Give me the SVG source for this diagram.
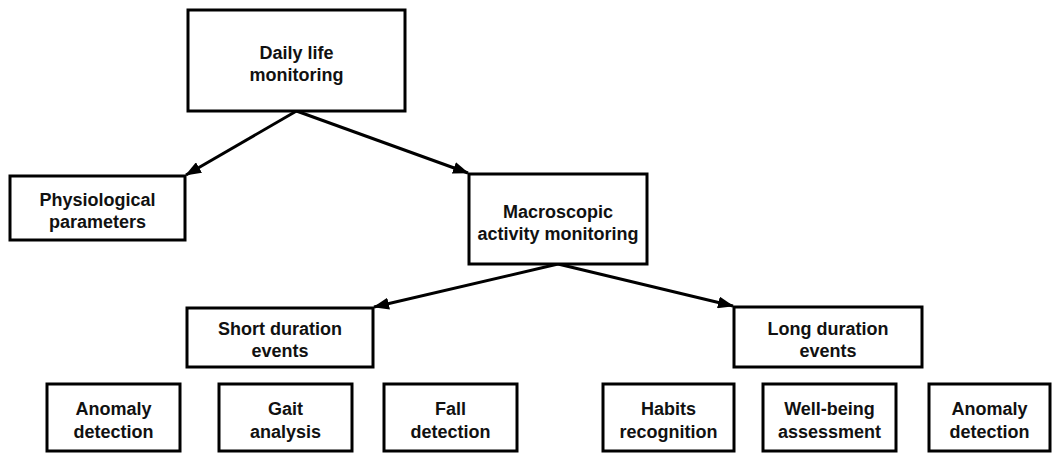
<svg xmlns="http://www.w3.org/2000/svg" width="1052" height="453" viewBox="0 0 1052 453">
<style>
.box{fill:#fff;stroke:#000;stroke-width:3}
.t{font-family:"Liberation Sans",Arial,sans-serif;font-weight:bold;font-size:18px;fill:#111;text-anchor:middle}
.c{stroke:#000;stroke-width:3;fill:none;marker-end:url(#ah)}
</style>
<defs>
<marker id="ah" markerUnits="userSpaceOnUse" markerWidth="16" markerHeight="12" refX="15" refY="6" orient="auto" viewBox="0 0 16 12">
<path d="M0,0 L16,6 L0,12 z" fill="#000"/>
</marker>
</defs>
<rect width="1052" height="453" fill="#fff"/>
<g id="connectors">
<line class="c" x1="296.5" y1="111" x2="186" y2="175"/>
<line class="c" x1="296.5" y1="111" x2="468" y2="173"/>
<line class="c" x1="558" y1="264" x2="374" y2="307"/>
<line class="c" x1="558" y1="264" x2="733" y2="306"/>
</g>
<g id="daily">
<rect class="box" x="188" y="10" width="217" height="101"/>
<text class="t" x="296.5" y="59">Daily life</text>
<text class="t" x="296.5" y="81">monitoring</text>
</g>
<g id="physio">
<rect class="box" x="10" y="176" width="175" height="64"/>
<text class="t" x="97.5" y="206">Physiological</text>
<text class="t" x="97.5" y="228">parameters</text>
</g>
<g id="macro">
<rect class="box" x="469" y="174" width="178" height="90"/>
<text class="t" x="558" y="218">Macroscopic</text>
<text class="t" x="558" y="240">activity monitoring</text>
</g>
<g id="short">
<rect class="box" x="187" y="308" width="186" height="59"/>
<text class="t" x="280" y="335">Short duration</text>
<text class="t" x="280" y="357">events</text>
</g>
<g id="long">
<rect class="box" x="734" y="307" width="188" height="60"/>
<text class="t" x="828" y="335">Long duration</text>
<text class="t" x="828" y="357">events</text>
</g>
<g id="anomaly1">
<rect class="box" x="47" y="384" width="133" height="67"/>
<text class="t" x="113.5" y="415">Anomaly</text>
<text class="t" x="113.5" y="438">detection</text>
</g>
<g id="gait">
<rect class="box" x="219" y="384" width="133" height="67"/>
<text class="t" x="285.5" y="415">Gait</text>
<text class="t" x="285.5" y="438">analysis</text>
</g>
<g id="fall">
<rect class="box" x="384" y="384" width="133" height="67"/>
<text class="t" x="450.5" y="415">Fall</text>
<text class="t" x="450.5" y="438">detection</text>
</g>
<g id="habits">
<rect class="box" x="603" y="384" width="131" height="67"/>
<text class="t" x="668.5" y="415">Habits</text>
<text class="t" x="668.5" y="438">recognition</text>
</g>
<g id="wellbeing">
<rect class="box" x="763" y="384" width="133" height="67"/>
<text class="t" x="829.5" y="415">Well-being</text>
<text class="t" x="829.5" y="438">assessment</text>
</g>
<g id="anomaly2">
<rect class="box" x="929" y="384" width="121" height="67"/>
<text class="t" x="989.5" y="415">Anomaly</text>
<text class="t" x="989.5" y="438">detection</text>
</g>
</svg>
